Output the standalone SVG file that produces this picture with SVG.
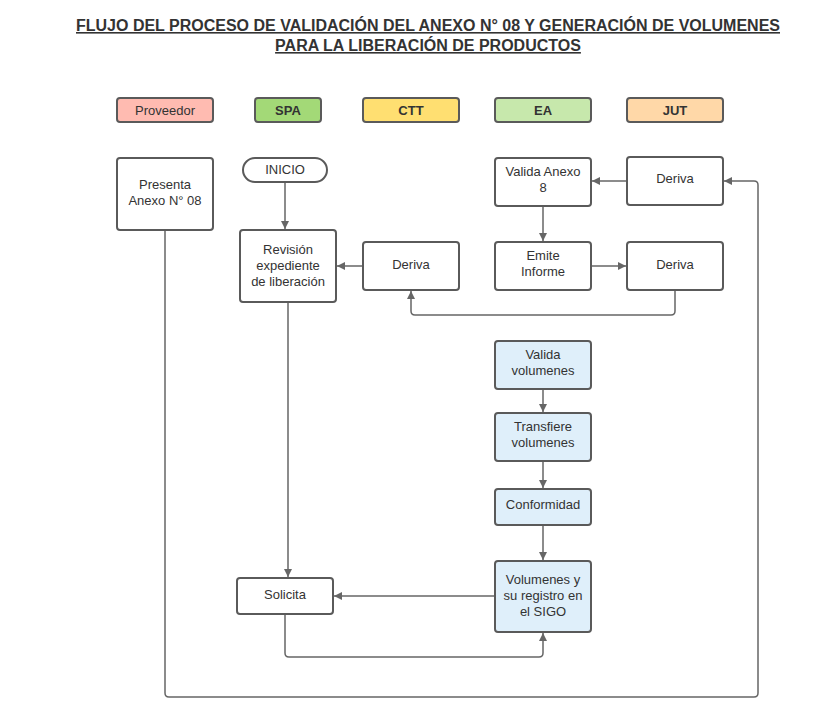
<svg xmlns="http://www.w3.org/2000/svg" width="838" height="727" viewBox="0 0 838 727">
<defs>
<style>
.box{stroke:#5a5a5a;stroke-width:2;fill:#fff}
.blue{fill:#dfeffa}
.t{font-family:"Liberation Sans",Arial,sans-serif;font-size:13px;fill:#333;text-anchor:middle}
.b{font-weight:bold}
.title{font-family:"Liberation Sans",Arial,sans-serif;font-size:16px;font-weight:bold;fill:#333;text-anchor:middle;text-decoration:underline}
.c{fill:none;stroke:#666;stroke-width:1.5}
</style>
<marker id="ah" viewBox="0 0 10 10" refX="10" refY="5" markerWidth="8" markerHeight="8" markerUnits="userSpaceOnUse" orient="auto">
<path d="M0,0 L10,5 L0,10 Z" fill="#666"/>
</marker>
</defs>
<rect width="838" height="727" fill="#fff"/>
<g id="title">
<text class="title" x="428" y="31">FLUJO DEL PROCESO DE VALIDACIÓN DEL ANEXO N° 08 Y GENERACIÓN DE VOLUMENES</text>
<text class="title" x="428" y="51">PARA LA LIBERACIÓN DE PRODUCTOS</text>
</g>
<g id="lane-proveedor"><rect class="box" x="117" y="98" width="96" height="24" rx="3" fill="#ffbbb1" style="fill:#ffbbb1"/><text class="t" x="165" y="115">Proveedor</text></g>
<g id="lane-spa"><rect class="box" x="255" y="98" width="66" height="24" rx="3" style="fill:#a3d977"/><text class="t b" x="288" y="115">SPA</text></g>
<g id="lane-ctt"><rect class="box" x="363" y="98" width="96" height="24" rx="3" style="fill:#ffdf71"/><text class="t b" x="411" y="115">CTT</text></g>
<g id="lane-ea"><rect class="box" x="495" y="98" width="96" height="24" rx="3" style="fill:#c7e8ac"/><text class="t b" x="543" y="115">EA</text></g>
<g id="lane-jut"><rect class="box" x="627" y="98" width="96" height="24" rx="3" style="fill:#ffd8a8"/><text class="t b" x="675" y="115">JUT</text></g>

<g id="connectors">
<path class="c" d="M285,182 V229" marker-end="url(#ah)"/>
<path class="c" d="M363,266 H337" marker-end="url(#ah)"/>
<path class="c" d="M543,206 V241" marker-end="url(#ah)"/>
<path class="c" d="M591,266 H626" marker-end="url(#ah)"/>
<path class="c" d="M675,290 V311 Q675,315 671,315 H415 Q411,315 411,311 V291" marker-end="url(#ah)"/>
<path class="c" d="M627,181 H592" marker-end="url(#ah)"/>
<path class="c" d="M165,230 V693 Q165,697 169,697 H754 Q758,697 758,693 V185 Q758,181 754,181 H724" marker-end="url(#ah)"/>
<path class="c" d="M288,302 V577" marker-end="url(#ah)"/>
<path class="c" d="M543,389 V412" marker-end="url(#ah)"/>
<path class="c" d="M543,461 V488" marker-end="url(#ah)"/>
<path class="c" d="M543,525 V560" marker-end="url(#ah)"/>
<path class="c" d="M495,596 H334" marker-end="url(#ah)"/>
<path class="c" d="M285,614 V653 Q285,657 289,657 H539 Q543,657 543,653 V633" marker-end="url(#ah)"/>
</g>

<g id="n-presenta"><rect class="box" x="117" y="158" width="96" height="72" rx="3"/><text class="t" x="165" y="189">Presenta</text><text class="t" x="165" y="205">Anexo N° 08</text></g>
<g id="n-inicio"><rect class="box" x="243" y="158" width="84" height="24" rx="12"/><text class="t" x="285" y="174">INICIO</text></g>
<g id="n-revision"><rect class="box" x="240" y="230" width="96" height="72" rx="3"/><text class="t" x="288" y="254">Revisión</text><text class="t" x="288" y="270">expediente</text><text class="t" x="288" y="286">de liberación</text></g>
<g id="n-deriva-ctt"><rect class="box" x="363" y="242" width="96" height="48" rx="3"/><text class="t" x="411" y="269">Deriva</text></g>
<g id="n-valida-anexo"><rect class="box" x="495" y="158" width="96" height="48" rx="3"/><text class="t" x="543" y="176">Valida Anexo</text><text class="t" x="543" y="192">8</text></g>
<g id="n-deriva-jut1"><rect class="box" x="627" y="157" width="96" height="48" rx="3"/><text class="t" x="675" y="183">Deriva</text></g>
<g id="n-emite"><rect class="box" x="495" y="242" width="96" height="48" rx="3"/><text class="t" x="543" y="260">Emite</text><text class="t" x="543" y="276">Informe</text></g>
<g id="n-deriva-jut2"><rect class="box" x="627" y="242" width="96" height="48" rx="3"/><text class="t" x="675" y="269">Deriva</text></g>
<g id="n-valida-vol"><rect class="box blue" x="495" y="341" width="96" height="48" rx="3"/><text class="t" x="543" y="359">Valida</text><text class="t" x="543" y="375">volumenes</text></g>
<g id="n-transfiere"><rect class="box blue" x="495" y="413" width="96" height="48" rx="3"/><text class="t" x="543" y="431">Transfiere</text><text class="t" x="543" y="447">volumenes</text></g>
<g id="n-conformidad"><rect class="box blue" x="495" y="489" width="96" height="36" rx="3"/><text class="t" x="543" y="509">Conformidad</text></g>
<g id="n-volumenes"><rect class="box blue" x="495" y="561" width="96" height="71" rx="3"/><text class="t" x="543" y="584">Volumenes y</text><text class="t" x="543" y="600">su registro en</text><text class="t" x="543" y="616">el SIGO</text></g>
<g id="n-solicita"><rect class="box" x="237" y="578" width="96" height="36" rx="3"/><text class="t" x="285" y="599">Solicita</text></g>
</svg>
